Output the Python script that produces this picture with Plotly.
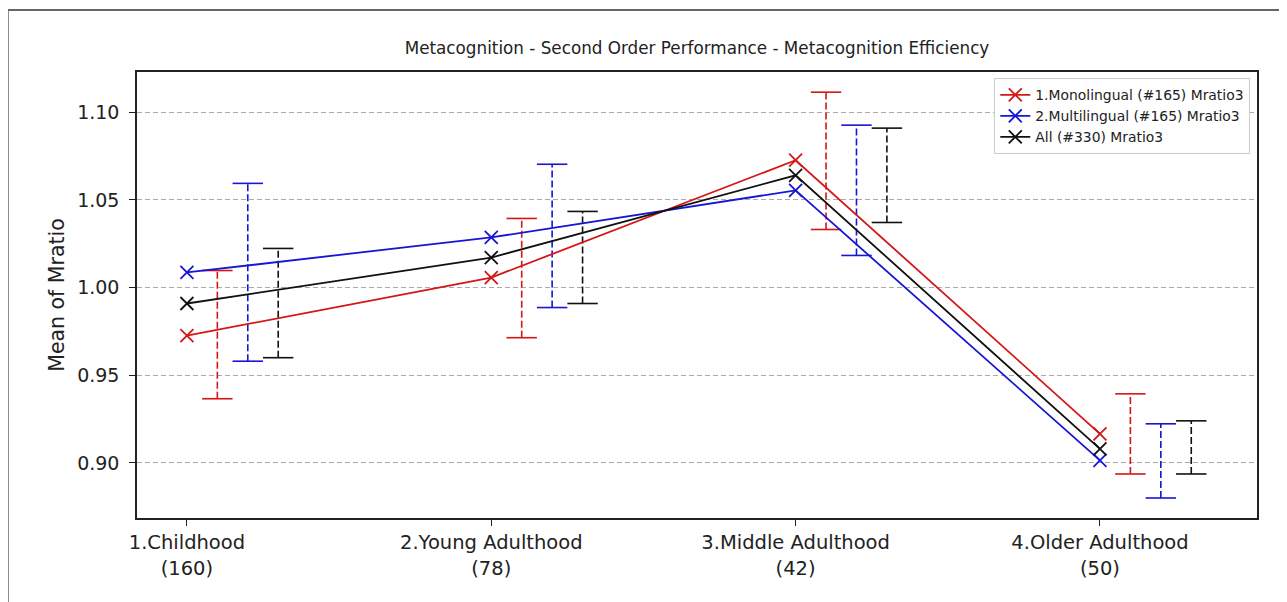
import plotly.graph_objects as go

categories = ["1.Childhood<br>(160)", "2.Young Adulthood<br>(78)",
              "3.Middle Adulthood<br>(42)", "4.Older Adulthood<br>(50)"]
series_names = ["1.Monolingual (#165) Mratio3", "2.Multilingual (#165) Mratio3", "All (#330) Mratio3"]

mono_mean = [0.9726, 1.0057, 1.0726, 0.9166]
mono_lo = [0.9366, 0.9714, 1.0331, 0.8937]
mono_hi = [1.0097, 1.0394, 1.1114, 0.9394]

multi_mean = [1.0086, 1.0286, 1.0554, 0.9015]
multi_lo = [0.9580, 0.9886, 1.0183, 0.8800]
multi_hi = [1.0594, 1.0703, 1.0926, 0.9223]

all_mean = [0.9909, 1.0171, 1.0640, 0.9080]
all_lo = [0.9600, 0.9909, 1.0371, 0.8937]
all_hi = [1.0223, 1.0434, 1.0909, 0.9240]

yticks = [0.90, 0.95, 1.00, 1.05, 1.10]

colors = ["#d41616", "#1616d4", "#111111"]
offsets = [0.1, 0.2, 0.3]
cap = 0.05

# page body has an 8px margin; compensate so the plot lands where the reference has it
ML, MT, PW, PH = 129, 64, 1120, 446
W, H = 1287, 602

fig = go.Figure()
xs = list(range(len(categories)))
data = [(mono_mean, mono_lo, mono_hi), (multi_mean, multi_lo, multi_hi), (all_mean, all_lo, all_hi)]

for k, (mean, lo, hi) in enumerate(data):
    col = colors[k]
    off = offsets[k]
    vx, vy, cx, cy = [], [], [], []
    for i in xs:
        xe = i + off
        vx += [xe, xe, None]
        vy += [lo[i], hi[i], None]
        for yv in (lo[i], hi[i]):
            cx += [xe - cap, xe + cap, None]
            cy += [yv, yv, None]
    fig.add_trace(go.Scatter(x=vx, y=vy, mode="lines", showlegend=False, hoverinfo="skip",
                             line=dict(color=col, width=1.6, dash="7px,3px")))
    fig.add_trace(go.Scatter(x=cx, y=cy, mode="lines", showlegend=False, hoverinfo="skip",
                             line=dict(color=col, width=1.6)))

for k, (mean, lo, hi) in enumerate(data):
    col = colors[k]
    fig.add_trace(go.Scatter(x=xs, y=mean, mode="lines+markers", name=series_names[k],
                             line=dict(color=col, width=1.8),
                             marker=dict(symbol="x-thin", size=13, color=col,
                                         line=dict(color=col, width=1.8))))

fig.update_layout(
    width=W, height=H,
    margin=dict(l=ML, r=W - ML - PW, t=MT, b=H - MT - PH),
    paper_bgcolor="white", plot_bgcolor="white",
    font=dict(family="DejaVu Sans", color="#222"),
    title=dict(text="Metacognition - Second Order Performance - Metacognition Efficiency",
               x=(ML + PW / 2) / W, xanchor="center", y=1 - 40 / H, yanchor="middle",
               font=dict(size=16.8, family="DejaVu Sans", color="#222")),
    legend=dict(x=0.994, y=0.986, xanchor="right", yanchor="top",
                bgcolor="white", bordercolor="#cccccc", borderwidth=1,
                font=dict(size=13.9, family="DejaVu Sans", color="#222"),
                tracegroupgap=0, itemwidth=30),
    showlegend=True,
)

fig.update_xaxes(range=[-0.164, 3.516], tickmode="array", tickvals=xs, ticktext=categories,
                 showgrid=False, zeroline=False, showline=True, linecolor="#222", linewidth=1.5,
                 mirror=True, ticks="outside", ticklen=6, tickcolor="#222",
                 tickfont=dict(size=19.5, family="DejaVu Sans", color="#222"))
fig.update_yaxes(range=[0.8686, 1.1229], tickmode="array", tickvals=yticks,
                 ticktext=[f"{v:.2f}" for v in yticks],
                 showgrid=True, gridcolor="#aaaaaa", griddash="5px,3px", gridwidth=1,
                 zeroline=False, showline=True, linecolor="#222", linewidth=1.5,
                 mirror=True, ticks="outside", ticklen=6, tickcolor="#222",
                 ticklabelstandoff=6,
                 tickfont=dict(size=19, family="DejaVu Sans", color="#222"),
                 title=dict(text="Mean of Mratio", font=dict(size=20.5, family="DejaVu Sans", color="#222"),
                            standoff=7))

fig.add_shape(type="line", xref="paper", yref="paper",
              x0=(0 - ML) / PW, x1=1.2, y0=(MT + PH - 2) / PH, y1=(MT + PH - 2) / PH,
              line=dict(color="#333", width=1.5))
fig.add_shape(type="line", xref="paper", yref="paper",
              x0=(0 - ML) / PW, x1=(0 - ML) / PW, y0=(MT + PH - 2) / PH, y1=-0.5,
              line=dict(color="#666", width=1.5))

fig.write_html("out.html")
